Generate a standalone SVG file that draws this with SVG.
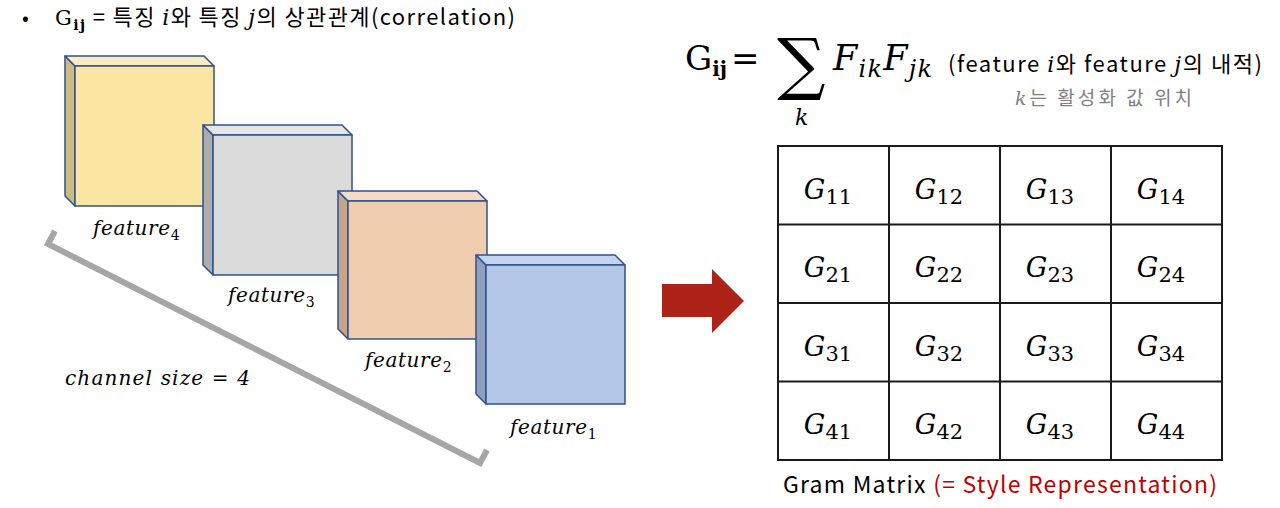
<svg xmlns="http://www.w3.org/2000/svg" width="1280" height="508" viewBox="0 0 1280 508">
<style>
.box path{stroke:#2F528F;stroke-width:1.5;stroke-linejoin:round}
.lbl{font-family:"DejaVu Serif","Liberation Serif",serif;font-style:italic;font-size:20px;fill:#000}
.sub{font-style:normal;font-size:14px}
.ko{font-family:"Noto Sans CJK KR","Noto Sans",sans-serif;fill:#000}
.mi{font-family:"DejaVu Serif","Liberation Serif",serif;font-style:italic}
.mr{font-family:"DejaVu Serif","Liberation Serif",serif}
.cell{font-family:"DejaVu Serif","Liberation Serif",serif;font-style:italic;font-size:27px;fill:#000;text-anchor:middle}
.cs{font-style:normal;font-size:21px}
.grid{fill:none;stroke:#1a1a1a;stroke-width:2}
</style>

<g id="title">
<text x="22" y="25" class="ko" font-size="20">•</text>
<text x="55" y="25" font-size="22" textLength="460" lengthAdjust="spacing"><tspan class="mr" font-size="21">G</tspan><tspan class="mr" font-weight="bold" font-size="14" dy="5">ij</tspan><tspan class="ko" dy="-5"> = 특징 </tspan><tspan class="mi">i</tspan><tspan class="ko">와 특징 </tspan><tspan class="mi">j</tspan><tspan class="ko">의 상관관계(correlation)</tspan></text>
</g>

<g id="feature4" class="box">
<path d="M75,66 L65,56 L65,196 L75,206 Z" fill="#CDBB82"/>
<path d="M65,56 L204,56 L214,66 L75,66 Z" fill="#FCECC0"/>
<path d="M75,66 H214 V206 H75 Z" fill="#FBE5A2"/>
<text class="lbl" x="93" y="235" letter-spacing="0.6">feature<tspan class="sub" dy="5">4</tspan></text>
</g>

<g id="feature3" class="box">
<path d="M213,135 L203,125 L203,265 L213,275 Z" fill="#ADADAD"/>
<path d="M203,125 L342,125 L352,135 L213,135 Z" fill="#E6E6E6"/>
<path d="M213,135 H352 V275 H213 Z" fill="#DBDBDB"/>
<text class="lbl" x="228" y="302" letter-spacing="0.6">feature<tspan class="sub" dy="5">3</tspan></text>
</g>

<g id="feature2" class="box">
<path d="M348,201 L338,191 L338,329 L348,339 Z" fill="#C4A48A"/>
<path d="M338,191 L477,191 L487,201 L348,201 Z" fill="#F5DAC5"/>
<path d="M348,201 H487 V339 H348 Z" fill="#F1CDB0"/>
<text class="lbl" x="365" y="367" letter-spacing="0.6">feature<tspan class="sub" dy="5">2</tspan></text>
</g>

<g id="feature1" class="box">
<path d="M486,265 L476,255 L476,394 L486,404 Z" fill="#8FA0BE"/>
<path d="M476,255 L615,255 L625,265 L486,265 Z" fill="#C5D4EE"/>
<path d="M486,265 H625 V404 H486 Z" fill="#B4C7E7"/>
<text class="lbl" x="510" y="434" letter-spacing="0.6">feature<tspan class="sub" dy="5">1</tspan></text>
</g>

<g id="channel-label">
<text class="lbl" x="65" y="385" font-size="21" textLength="185" lengthAdjust="spacing">channel size = 4</text>
</g>

<g id="connectors">
<polyline points="55,231 48,244 480,463 487,450" fill="none" stroke="#A6A6A6" stroke-width="6" stroke-linejoin="miter"/>
<polygon points="662,284 712,284 712,269 744,301 712,333 712,317 662,317" fill="#AE2318"/>
</g>

<g id="equation">
<text x="685" y="70" class="mr" font-size="34">G<tspan font-weight="bold" font-size="20" dy="6">ij</tspan></text>
<text x="731" y="70" class="mr" font-size="34">=</text>
<text x="777" y="87" class="mr" font-size="68">∑</text>
<text x="795" y="125" class="mi" font-size="22">k</text>
<text x="833" y="70" class="mi" font-size="35" textLength="99" lengthAdjust="spacing">F<tspan font-size="24" dy="7">ik</tspan><tspan dy="-7">F</tspan><tspan font-size="24" dy="7">jk</tspan></text>
<text x="948" y="72" class="ko" font-size="22" textLength="314" lengthAdjust="spacing">(feature <tspan class="mi">i</tspan>와 feature <tspan class="mi">j</tspan>의 내적)</text>
<text x="1015" y="105" class="ko" font-size="19" fill="#808080" textLength="177" lengthAdjust="spacing"><tspan class="mi" fill="#808080">k</tspan><tspan fill="#808080">는 활성화 값 위치</tspan></text>
</g>

<g id="gram-matrix">
<rect class="grid" x="778" y="146" width="444" height="314"/>
<path class="grid" d="M889,146V460M1000,146V460M1111,146V460M778,224.5H1222M778,303H1222M778,381.5H1222"/>
<text class="cell" x="828" y="199">G<tspan class="cs" dy="5">11</tspan></text>
<text class="cell" x="939" y="199">G<tspan class="cs" dy="5">12</tspan></text>
<text class="cell" x="1050" y="199">G<tspan class="cs" dy="5">13</tspan></text>
<text class="cell" x="1161" y="199">G<tspan class="cs" dy="5">14</tspan></text>
<text class="cell" x="828" y="277">G<tspan class="cs" dy="5">21</tspan></text>
<text class="cell" x="939" y="277">G<tspan class="cs" dy="5">22</tspan></text>
<text class="cell" x="1050" y="277">G<tspan class="cs" dy="5">23</tspan></text>
<text class="cell" x="1161" y="277">G<tspan class="cs" dy="5">24</tspan></text>
<text class="cell" x="828" y="356">G<tspan class="cs" dy="5">31</tspan></text>
<text class="cell" x="939" y="356">G<tspan class="cs" dy="5">32</tspan></text>
<text class="cell" x="1050" y="356">G<tspan class="cs" dy="5">33</tspan></text>
<text class="cell" x="1161" y="356">G<tspan class="cs" dy="5">34</tspan></text>
<text class="cell" x="828" y="434">G<tspan class="cs" dy="5">41</tspan></text>
<text class="cell" x="939" y="434">G<tspan class="cs" dy="5">42</tspan></text>
<text class="cell" x="1050" y="434">G<tspan class="cs" dy="5">43</tspan></text>
<text class="cell" x="1161" y="434">G<tspan class="cs" dy="5">44</tspan></text>
<text x="783" y="493" class="ko" font-size="23" textLength="434" lengthAdjust="spacing">Gram Matrix <tspan fill="#C00000">(= Style Representation)</tspan></text>
</g>
</svg>
